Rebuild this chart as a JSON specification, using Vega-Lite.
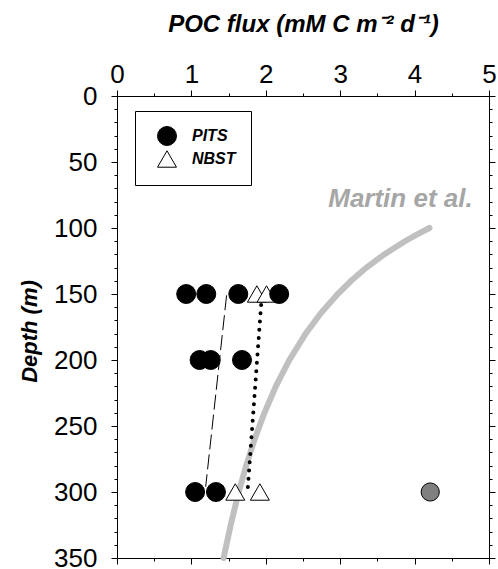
{
  "$schema": "https://vega.github.io/schema/vega-lite/v6.json",
  "width": 372,
  "height": 462,
  "autosize": "none",
  "padding": {"left": 117, "top": 96, "right": 9, "bottom": 11},
  "background": "white",
  "config": {
    "view": {"stroke": "black", "strokeWidth": 1},
    "font": "Liberation Sans",
    "axis": {"domain": false, "grid": false, "tickColor": "black", "tickWidth": 1, "labelColor": "black", "labelFont": "Liberation Sans", "labelFontSize": 26, "titleColor": "black", "titleFont": "Liberation Sans"},
    "legend": {"orient": "none", "legendX": 18, "legendY": 15, "strokeColor": "black", "fillColor": "white", "padding": 15, "symbolOffset": 7, "labelOffset": 15, "labelFont": "Liberation Sans", "labelFontSize": 16, "labelFontWeight": "bold", "labelFontStyle": "italic", "labelColor": "black", "symbolSize": 360, "symbolStrokeColor": "black", "symbolStrokeWidth": 1, "rowPadding": 0}
  },
  "datasets": {
    "martin": [
      {"depth": 100, "flux": 4.2}, {"depth": 105, "flux": 4.028}, {"depth": 110, "flux": 3.87}, {"depth": 120, "flux": 3.592},
      {"depth": 130, "flux": 3.353}, {"depth": 140, "flux": 3.147}, {"depth": 150, "flux": 2.966}, {"depth": 165, "flux": 2.733},
      {"depth": 180, "flux": 2.536}, {"depth": 200, "flux": 2.317}, {"depth": 220, "flux": 2.135}, {"depth": 240, "flux": 1.982},
      {"depth": 260, "flux": 1.85}, {"depth": 280, "flux": 1.736}, {"depth": 300, "flux": 1.636}, {"depth": 325, "flux": 1.528},
      {"depth": 350, "flux": 1.433}
    ],
    "dashed": [{"depth": 151, "flux": 1.473}, {"depth": 296, "flux": 1.192}],
    "dotted": [{"depth": 152, "flux": 1.945}, {"depth": 298.5, "flux": 1.756}],
    "obs": [
      {"type": "NBST", "depth": 150, "flux": 1.88},
      {"type": "NBST", "depth": 150, "flux": 2.01},
      {"type": "NBST", "depth": 300, "flux": 1.59},
      {"type": "NBST", "depth": 300, "flux": 1.92},
      {"type": "PITS", "depth": 150, "flux": 0.93},
      {"type": "PITS", "depth": 150, "flux": 1.2},
      {"type": "PITS", "depth": 150, "flux": 1.63},
      {"type": "PITS", "depth": 150, "flux": 2.18},
      {"type": "PITS", "depth": 200, "flux": 1.11},
      {"type": "PITS", "depth": 200, "flux": 1.26},
      {"type": "PITS", "depth": 200, "flux": 1.68},
      {"type": "PITS", "depth": 300, "flux": 1.05},
      {"type": "PITS", "depth": 300, "flux": 1.33}
    ],
    "grey": [{"depth": 300, "flux": 4.21}],
    "label": [{"depth": 84, "flux": 3.81, "text": "Martin et al."}]
  },
  "resolve": {"axis": {"x": "independent", "y": "independent"}},
  "layer": [
    {
      "data": {"name": "martin"},
      "mark": {"type": "line", "color": "#c0c0c0", "strokeWidth": 6, "strokeCap": "round"},
      "encoding": {
        "x": {"field": "flux", "type": "quantitative", "scale": {"domain": [0, 5], "nice": false, "zero": false},
          "axis": {"orient": "top", "values": [0, 1, 2, 3, 4, 5], "tickSize": 6, "labelPadding": 2.5, "labelFlush": false, "labelOverlap": false,
            "title": "POC flux (mM C m⁻² d⁻¹)", "titleFontSize": 24, "titleFontWeight": "bold", "titleFontStyle": "italic",
            "titleX": 186, "titleY": -65, "titleAlign": "center", "titleBaseline": "alphabetic"}},
        "y": {"field": "depth", "type": "quantitative", "scale": {"domain": [0, 350], "reverse": true, "nice": false, "zero": false},
          "axis": {"orient": "left", "values": [0, 50, 100, 150, 200, 250, 300, 350], "tickSize": 6, "labelPadding": 14, "labelOverlap": false,
            "title": "Depth (m)", "titleFontSize": 22, "titleFontWeight": "bold", "titleFontStyle": "italic",
            "titleAngle": -90, "titleX": -81, "titleY": 235, "titleAlign": "center", "titleBaseline": "alphabetic"}},
        "order": {"field": "depth", "type": "quantitative"}
      }
    },
    {
      "data": {"name": "dashed"},
      "mark": {"type": "line", "color": "black", "strokeWidth": 1, "strokeDash": [15, 5]},
      "encoding": {
        "x": {"field": "flux", "type": "quantitative", "scale": {"domain": [0, 5], "nice": false, "zero": false},
          "axis": {"orient": "top", "values": [0.5, 1.5, 2.5, 3.5, 4.5], "tickSize": 3, "labels": false, "title": null}},
        "y": {"field": "depth", "type": "quantitative", "scale": {"domain": [0, 350], "reverse": true, "nice": false, "zero": false},
          "axis": {"orient": "left", "values": [10, 20, 30, 40, 60, 70, 80, 90, 110, 120, 130, 140, 160, 170, 180, 190, 210, 220, 230, 240, 260, 270, 280, 290, 310, 320, 330, 340], "tickSize": 3, "labels": false, "title": null}},
        "order": {"field": "depth", "type": "quantitative"}
      }
    },
    {
      "data": {"name": "dotted"},
      "mark": {"type": "line", "color": "black", "strokeWidth": 4, "strokeDash": [0, 8.3], "strokeCap": "round"},
      "encoding": {
        "x": {"field": "flux", "type": "quantitative", "scale": {"domain": [0, 5], "nice": false, "zero": false},
          "axis": {"orient": "bottom", "values": [0, 1, 2, 3, 4, 5], "tickSize": 6, "labels": false, "title": null}},
        "y": {"field": "depth", "type": "quantitative", "scale": {"domain": [0, 350], "reverse": true, "nice": false, "zero": false},
          "axis": {"orient": "right", "values": [0, 50, 100, 150, 200, 250, 300, 350], "tickSize": 6, "labels": false, "title": null}},
        "order": {"field": "depth", "type": "quantitative"}
      }
    },
    {
      "data": {"name": "obs"},
      "mark": {"type": "point", "filled": true, "strokeWidth": 1, "size": 360, "opacity": 1},
      "encoding": {
        "x": {"field": "flux", "type": "quantitative", "scale": {"domain": [0, 5], "nice": false, "zero": false},
          "axis": {"orient": "bottom", "values": [0.5, 1.5, 2.5, 3.5, 4.5], "tickSize": 3, "labels": false, "title": null}},
        "y": {"field": "depth", "type": "quantitative", "scale": {"domain": [0, 350], "reverse": true, "nice": false, "zero": false},
          "axis": {"orient": "right", "values": [10, 20, 30, 40, 60, 70, 80, 90, 110, 120, 130, 140, 160, 170, 180, 190, 210, 220, 230, 240, 260, 270, 280, 290, 310, 320, 330, 340], "tickSize": 3, "labels": false, "title": null}},
        "shape": {"field": "type", "type": "nominal", "scale": {"domain": ["PITS", "NBST"], "range": ["circle", "triangle-up"]}, "legend": {"title": null}},
        "fill": {"field": "type", "type": "nominal", "scale": {"domain": ["PITS", "NBST"], "range": ["black", "white"]}, "legend": {"title": null}},
        "stroke": {"field": "type", "type": "nominal", "scale": {"domain": ["PITS", "NBST"], "range": ["black", "black"]}, "legend": {"title": null}}
      }
    },
    {
      "data": {"name": "grey"},
      "mark": {"type": "point", "filled": true, "fill": "#808080", "stroke": "black", "strokeWidth": 1, "size": 330, "opacity": 1},
      "encoding": {
        "x": {"field": "flux", "type": "quantitative", "scale": {"domain": [0, 5], "nice": false, "zero": false}, "axis": null},
        "y": {"field": "depth", "type": "quantitative", "scale": {"domain": [0, 350], "reverse": true, "nice": false, "zero": false}, "axis": null}
      }
    },
    {
      "data": {"name": "label"},
      "mark": {"type": "text", "font": "Liberation Sans", "fontSize": 26, "fontWeight": "bold", "fontStyle": "italic", "color": "#a6a6a6", "align": "center", "baseline": "alphabetic"},
      "encoding": {
        "x": {"field": "flux", "type": "quantitative", "scale": {"domain": [0, 5], "nice": false, "zero": false}, "axis": null},
        "y": {"field": "depth", "type": "quantitative", "scale": {"domain": [0, 350], "reverse": true, "nice": false, "zero": false}, "axis": null},
        "text": {"field": "text", "type": "nominal"}
      }
    }
  ]
}
